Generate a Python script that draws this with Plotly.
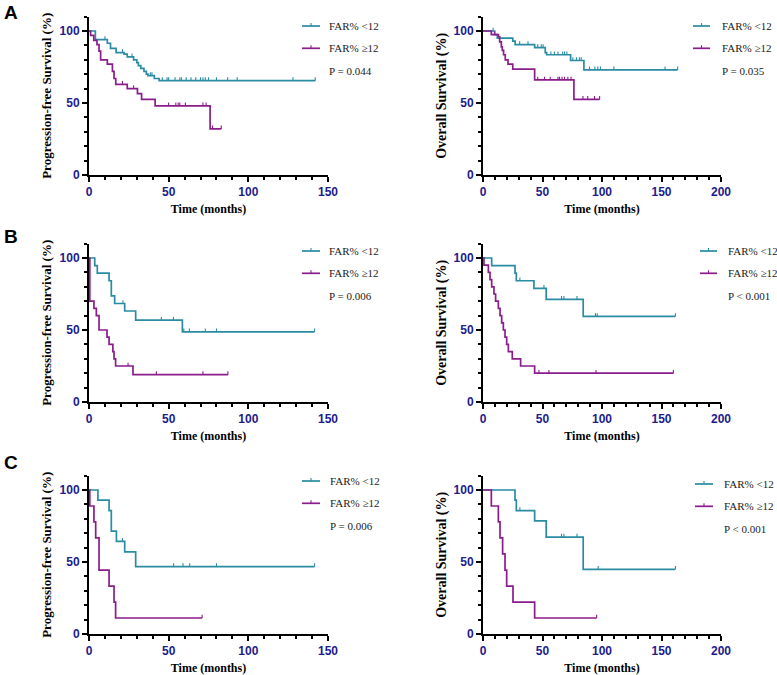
import numpy as np
import plotly.graph_objects as go

# Kaplan-Meier curves
# each curve: step times (months), survival (%) after each step, censor times

# A - progression-free survival
a_pfs_lo_t = [4, 11.5, 13.5, 17, 22, 24, 28, 30, 31, 32.5, 34.5, 36, 37, 41, 44]
a_pfs_lo_s = [94, 91.5, 88, 85, 84, 82, 80, 78, 76, 74, 72, 70, 69, 67, 65.5]
a_pfs_lo_c = [10, 21, 27, 38.5, 39.5, 46, 49, 50, 54, 57, 58, 61, 64, 67, 70, 71.5, 73, 75, 80, 87, 93, 128, 142]
a_pfs_hi_t = [1, 3, 5, 6.3, 7.3, 11.5, 14.7, 15.7, 16.8, 24, 30.4, 33, 41.5, 76]
a_pfs_hi_s = [97, 93.5, 90.5, 86, 80, 77, 72, 67, 63, 60, 56.5, 52.5, 48, 32]
a_pfs_hi_c = [21, 28, 50, 54.5, 56, 57, 60.5, 71.5, 73.5, 77.5, 83]

# A - overall survival
a_os_lo_t = [9.8, 12, 25, 27, 43.4, 52.3, 53.5, 73.6, 84.8]
a_os_lo_s = [97.5, 95, 93, 90.5, 88.5, 85, 83.5, 79.5, 73]
a_os_lo_c = [8.5, 30.8, 37.8, 46, 49, 50.5, 57, 60, 63, 67, 68.5, 70.5, 75.5, 78.5, 81, 82.5,
             89.5, 94, 96.5, 98.7, 110, 153, 163.6]
a_os_hi_t = [7, 13, 14, 15.4, 16.2, 17.3, 18.7, 21, 25, 43.4, 76.4]
a_os_hi_s = [97.5, 96, 92.5, 89, 86.5, 83.5, 80, 77, 73.5, 66, 52.5]
a_os_hi_c = [9.8, 46, 51.7, 56.5, 63, 64.3, 66.4, 68.5, 71.3, 74, 84, 88, 93.7, 98]

# B - progression-free survival
b_pfs_lo_t = [3.6, 5.2, 12.6, 14, 16.1, 22.4, 29.3, 58.6]
b_pfs_lo_s = [94.7, 89.5, 84.2, 73.7, 68.4, 63.2, 56.8, 48.7]
b_pfs_lo_c = [21.3, 45.4, 53, 59.5, 63, 73, 80, 141.6]
b_pfs_hi_t = [0.5, 3.1, 4.6, 6.3, 11.3, 12.6, 15, 15.7, 16.7, 27.6]
b_pfs_hi_s = [70, 65, 60, 50, 45, 40, 35, 30, 25, 19]
b_pfs_hi_c = [24.5, 42.3, 71.5, 87.2]

# B - overall survival
b_os_lo_t = [7.3, 26.9, 28, 42.8, 53.1, 84.2]
b_os_lo_s = [94.7, 89.5, 84.2, 78.9, 71.3, 59.4]
b_os_lo_c = [31, 51.2, 66, 68, 79, 94.5, 96, 161.7]
b_os_hi_t = [0.8, 4.5, 5.9, 7.3, 9.2, 10.6, 12.9, 14.3, 15.7, 17.1, 18.5, 19.9, 21.3, 24.6, 31.6, 43.4]
b_os_hi_s = [95, 90, 85, 80, 75, 70, 65, 60, 55, 50, 45, 40, 35, 30, 25, 20]
b_os_hi_c = [47, 55.4, 95, 160]

# C - progression-free survival
c_pfs_lo_t = [5.6, 12.6, 14, 17.2, 22.4, 29.3]
c_pfs_lo_s = [92.9, 85.7, 71.4, 64.3, 57.1, 46.8]
c_pfs_lo_c = [21, 53.1, 59, 63.2, 80, 141.6]
c_pfs_hi_t = [0.5, 3.1, 4.2, 6.3, 12.6, 15.7, 16.7]
c_pfs_hi_s = [88.9, 77.8, 66.7, 44.4, 33.3, 22.2, 11.1]
c_pfs_hi_c = [71]

# C - overall survival
c_os_lo_t = [26.9, 28, 43.4, 53.1, 84.2]
c_os_lo_s = [92.9, 85.7, 78.6, 67.3, 44.9]
c_os_lo_c = [31, 66, 68, 79, 96.8, 161.7]
c_os_hi_t = [7, 12.9, 14.3, 16.5, 18.5, 19.9, 25.2, 43.4]
c_os_hi_s = [88.9, 77.8, 66.7, 55.6, 44.4, 33.3, 22.2, 11.1]
c_os_hi_c = [95.5]

p_values = ["P = 0.044", "P = 0.035", "P = 0.006", "P < 0.001", "P = 0.006", "P < 0.001"]
group_names = ["FAR% <12", "FAR% \u226512"]
panel_letters = ["A", "B", "C"]
y_titles = ["Progression-free Survival (%)", "Overall Survival (%)"]
x_title = "Time (months)"
x_max = [150, 200]

curves = [
    [(a_pfs_lo_t, a_pfs_lo_s, a_pfs_lo_c), (a_pfs_hi_t, a_pfs_hi_s, a_pfs_hi_c)],
    [(a_os_lo_t, a_os_lo_s, a_os_lo_c), (a_os_hi_t, a_os_hi_s, a_os_hi_c)],
    [(b_pfs_lo_t, b_pfs_lo_s, b_pfs_lo_c), (b_pfs_hi_t, b_pfs_hi_s, b_pfs_hi_c)],
    [(b_os_lo_t, b_os_lo_s, b_os_lo_c), (b_os_hi_t, b_os_hi_s, b_os_hi_c)],
    [(c_pfs_lo_t, c_pfs_lo_s, c_pfs_lo_c), (c_pfs_hi_t, c_pfs_hi_s, c_pfs_hi_c)],
    [(c_os_lo_t, c_os_lo_s, c_os_lo_c), (c_os_hi_t, c_os_hi_s, c_os_hi_c)],
]

COLORS = ["#2a8ca3", "#8b1c8c"]
TICK_COLOR = "#1c1c8c"
W, H = 777, 675
SERIF = "Liberation Serif"
SANS = "Liberation Sans"

# layout in screen pixels
col_px = [(89, 328), (483, 721)]
row_px = [(16.6, 175), (243.6, 402), (475.6, 634)]
letter_px = [12, 236, 462]
y_title_size = [13, 14]
y_title_standoff = [5, 4]
# legend: (line x0, line x1, text x, first row y)
legend_px = [(302, 320, 327, 26), (693, 710, 720, 26),
             (302, 320, 327, 251), (700, 717, 726, 251),
             (302, 320, 328, 481), (695, 713, 722, 484)]
LEG_STEP = 22.3


def px(x):
    return x / W


def py(y):
    return 1 - y / H


def km_xy(times, surv, cens):
    x = [0] + list(times) + [max(cens)]
    y = [100] + list(surv) + [surv[-1]]
    return x, y


def censor_y(times, surv, cens):
    s = np.array([100] + list(surv))
    idx = np.searchsorted(np.array(times), np.array(cens), side="right")
    return s[idx]


fig = go.Figure()
shapes = []
annotations = []

for i, panel in enumerate(curves):
    row, col = divmod(i, 2)
    n = "" if i == 0 else str(i + 1)
    for g, (t, s, c) in enumerate(panel):
        x, y = km_xy(t, s, c)
        fig.add_trace(go.Scatter(x=x, y=y, mode="lines", line=dict(color=COLORS[g], width=1.7, shape="hv"),
                                 xaxis="x" + n, yaxis="y" + n, showlegend=False, hoverinfo="skip"))
        # censor marks: short upward ticks
        fig.add_trace(go.Scatter(x=c, y=censor_y(t, s, c), mode="markers",
                                 marker=dict(size=1, color="rgba(0,0,0,0)"),
                                 error_y=dict(type="data", symmetric=False, array=[2.3] * len(c),
                                              arrayminus=[0] * len(c), width=0, thickness=1.1, color=COLORS[g]),
                                 xaxis="x" + n, yaxis="y" + n, showlegend=False, hoverinfo="skip"))

    x0, x1 = col_px[col]
    y0, y1 = row_px[row]
    fig.update_layout(**{
        "xaxis" + n: dict(domain=[px(x0), px(x1)], anchor="y" + n, range=[0, x_max[col]],
                          tickvals=list(range(0, x_max[col] + 1, 50)),
                          showline=True, linecolor="black", linewidth=2, showgrid=False, zeroline=False,
                          ticks="outside", ticklen=5, tickwidth=1.5, tickcolor="black",
                          minor=dict(dtick=10, ticks="outside", ticklen=3, tickwidth=1.5, tickcolor="black"),
                          tickfont=dict(family=SANS, size=12, color=TICK_COLOR, weight="bold"),
                          title=dict(text=x_title, standoff=6,
                                     font=dict(family=SERIF, size=12, color="black", weight="bold")),
                          automargin=False, fixedrange=True),
        "yaxis" + n: dict(domain=[py(y1), py(y0)], anchor="x" + n, range=[0, 110],
                          tickvals=[0, 50, 100],
                          showline=True, linecolor="black", linewidth=2, showgrid=False, zeroline=False,
                          ticks="outside", ticklen=5, tickwidth=1.5, tickcolor="black",
                          minor=dict(dtick=10, ticks="outside", ticklen=3, tickwidth=1.5, tickcolor="black"),
                          tickfont=dict(family=SANS, size=12, color=TICK_COLOR, weight="bold"),
                          title=dict(text=y_titles[col], standoff=y_title_standoff[col],
                                     font=dict(family=SERIF, size=y_title_size[col], color="black",
                                               weight="bold")),
                          automargin=False, fixedrange=True),
    })

    # legend drawn by hand next to each panel
    lx0, lx1, tx, ly = legend_px[i]
    for g in range(2):
        yy = ly + g * LEG_STEP
        shapes.append(dict(type="line", xref="paper", yref="paper", x0=px(lx0), x1=px(lx1),
                           y0=py(yy), y1=py(yy), line=dict(color=COLORS[g], width=1.7)))
        mid = (lx0 + lx1) / 2
        shapes.append(dict(type="line", xref="paper", yref="paper", x0=px(mid), x1=px(mid),
                           y0=py(yy), y1=py(yy - 3), line=dict(color=COLORS[g], width=1.1)))
        annotations.append(dict(x=px(tx), y=py(yy), xref="paper", yref="paper", text=group_names[g],
                                showarrow=False, xanchor="left", yanchor="middle",
                                font=dict(family=SERIF, size=11, color="#222")))
    annotations.append(dict(x=px(tx), y=py(ly + 2 * LEG_STEP), xref="paper", yref="paper", text=p_values[i],
                            showarrow=False, xanchor="left", yanchor="middle",
                            font=dict(family=SERIF, size=11, color="#222")))

for r, letter in enumerate(panel_letters):
    annotations.append(dict(x=px(11), y=py(letter_px[r]), xref="paper", yref="paper", text=letter,
                            showarrow=False, xanchor="center", yanchor="middle",
                            font=dict(family=SANS, size=19, color="black", weight="bold")))

fig.update_layout(width=W, height=H, margin=dict(l=0, r=0, t=0, b=0),
                  template="none", plot_bgcolor="white", paper_bgcolor="white",
                  showlegend=False, shapes=shapes, annotations=annotations)

# page has a default body margin; drop it so the figure sits at the window origin
fig.write_html("out.html", config={"displayModeBar": False},
               post_script="document.body.style.margin = '0';")
